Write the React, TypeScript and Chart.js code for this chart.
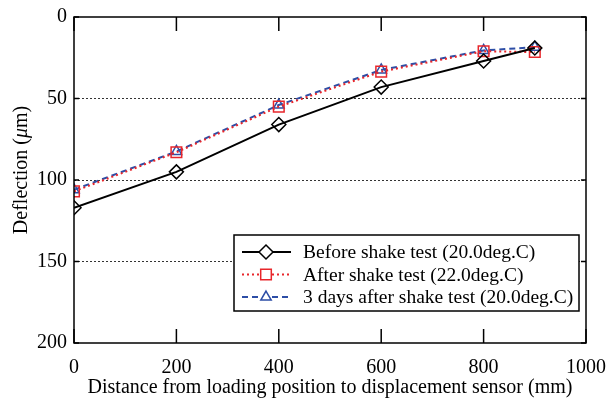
import React, { useEffect, useRef } from "react";
import { Chart, registerables } from "chart.js";
Chart.register(...registerables);

const distances = [0, 200, 400, 600, 800, 900];
const beforeShake = [117, 95, 66, 43, 27, 19];
const afterShake = [107, 83, 55, 33.5, 21, 21.5];
const threeDaysAfter = [106, 82.5, 54, 32.5, 20.5, 18.5];
const seriesLabels = [
  "Before shake test (20.0deg.C)",
  "After shake test (22.0deg.C)",
  "3 days after shake test (20.0deg.C)",
];
const xTickValues = [0, 200, 400, 600, 800, 1000];
const yTickValues = [0, 50, 100, 150, 200];
const xTitle = "Distance from loading position to displacement sensor (mm)";
const yTitleParts = ["Deflection (", "\u03bc", "m)"];

const FONT = "'Liberation Serif', 'Times New Roman', serif";
const FS = 20;
const LFS = 19.5;

function drawMarker(ctx: CanvasRenderingContext2D, style: string, r: number, x: number, y: number) {
  ctx.beginPath();
  if (style === "rectRot") {
    ctx.moveTo(x - r, y);
    ctx.lineTo(x, y - r);
    ctx.lineTo(x + r, y);
    ctx.lineTo(x, y + r);
    ctx.closePath();
  } else if (style === "rect") {
    const s = Math.SQRT1_2 * r;
    ctx.rect(x - s, y - s, 2 * s, 2 * s);
  } else if (style === "triangle") {
    for (let k = 0; k < 3; k++) {
      const ang = (k * 2 * Math.PI) / 3;
      const px = x + Math.sin(ang) * r;
      const py = y - Math.cos(ang) * r;
      if (k === 0) ctx.moveTo(px, py);
      else ctx.lineTo(px, py);
    }
    ctx.closePath();
  }
  ctx.fill();
  ctx.stroke();
}

const framePlugin = {
  id: "framePlugin",
  afterDatasetsDraw(chart: any) {
    const { ctx, chartArea: a, scales } = chart;
    const xs = scales.x;
    const ys = scales.y;
    ctx.save();
    ctx.strokeStyle = "#000";
    ctx.lineWidth = 1.5;
    ctx.setLineDash([]);
    ctx.strokeRect(a.left, a.top, a.right - a.left, a.bottom - a.top);
    xTickValues.forEach((v) => {
      const px = xs.getPixelForValue(v);
      ctx.beginPath();
      ctx.moveTo(px, a.bottom);
      ctx.lineTo(px, a.bottom - 14);
      ctx.moveTo(px, a.top);
      ctx.lineTo(px, a.top + 14);
      ctx.stroke();
    });
    yTickValues.forEach((v) => {
      const py = ys.getPixelForValue(v);
      ctx.beginPath();
      ctx.moveTo(a.left, py);
      ctx.lineTo(a.left + 5, py);
      ctx.moveTo(a.right, py);
      ctx.lineTo(a.right - 5, py);
      ctx.stroke();
    });

    // legend
    const bx = 234, by = 235, bw = 345, bh = 76;
    ctx.fillStyle = "#fff";
    ctx.fillRect(bx, by, bw, bh);
    ctx.strokeStyle = "#000";
    ctx.lineWidth = 1.5;
    ctx.strokeRect(bx, by, bw, bh);
    const rows = [252, 274.5, 297];
    chart.data.datasets.forEach((ds: any, i: number) => {
      const y = rows[i];
      ctx.save();
      ctx.strokeStyle = ds.borderColor;
      ctx.lineWidth = ds.borderWidth;
      ctx.setLineDash(ds.borderDash || []);
      ctx.beginPath();
      ctx.moveTo(242, y);
      ctx.lineTo(291, y);
      ctx.stroke();
      ctx.restore();
      ctx.save();
      ctx.fillStyle = "#fff";
      ctx.strokeStyle = ds.pointBorderColor;
      ctx.lineWidth = ds.pointBorderWidth;
      ctx.setLineDash([]);
      drawMarker(ctx, ds.pointStyle, ds.pointRadius, 266, y);
      ctx.restore();
      ctx.fillStyle = "#000";
      ctx.font = `${LFS}px ${FONT}`;
      ctx.textBaseline = "middle";
      ctx.textAlign = "left";
      ctx.fillText(ds.label, 303, y + 1);
    });

    // x title
    ctx.fillStyle = "#000";
    ctx.font = `${FS}px ${FONT}`;
    ctx.textAlign = "center";
    ctx.textBaseline = "middle";
    ctx.fillText(xTitle, (a.left + a.right) / 2, 388);

    // y title with italic mu
    ctx.save();
    ctx.translate(22, 170);
    ctx.rotate(-Math.PI / 2);
    ctx.textBaseline = "middle";
    ctx.textAlign = "left";
    const fonts = [`${FS}px ${FONT}`, `italic ${FS}px ${FONT}`, `${FS}px ${FONT}`];
    let total = 0;
    const widths = yTitleParts.map((t, i) => {
      ctx.font = fonts[i];
      const w = ctx.measureText(t).width;
      total += w;
      return w;
    });
    let cx = -total / 2;
    yTitleParts.forEach((t, i) => {
      ctx.font = fonts[i];
      ctx.fillText(t, cx, 0);
      cx += widths[i];
    });
    ctx.restore();
    ctx.restore();
  },
};

export default function App() {
  const ref = useRef<HTMLCanvasElement>(null);
  useEffect(() => {
    if (!ref.current) return;
    const mk = (vals: number[]) => distances.map((x, i) => ({ x, y: vals[i] }));
    const chart = new Chart(ref.current, {
      type: "line",
      data: {
        datasets: [
          {
            label: seriesLabels[0],
            data: mk(beforeShake),
            borderColor: "#000",
            borderWidth: 2,
            pointStyle: "rectRot",
            pointRadius: 7,
            pointBorderColor: "#000",
            pointBackgroundColor: "rgba(255,255,255,0)",
            pointBorderWidth: 1.5,
          },
          {
            label: seriesLabels[1],
            data: mk(afterShake),
            borderColor: "#e8262b",
            borderWidth: 2,
            borderDash: [2, 3],
            pointStyle: "rect",
            pointRadius: 7.5,
            pointBorderColor: "#e8262b",
            pointBackgroundColor: "rgba(255,255,255,0)",
            pointBorderWidth: 1.5,
          },
          {
            label: seriesLabels[2],
            data: mk(threeDaysAfter),
            borderColor: "#2d4ea6",
            borderWidth: 2,
            borderDash: [6, 4],
            pointStyle: "triangle",
            pointRadius: 6,
            pointBorderColor: "#2d4ea6",
            pointBackgroundColor: "rgba(255,255,255,0)",
            pointBorderWidth: 1.5,
          },
        ] as any,
      },
      options: {
        animation: false,
        responsive: false,
        maintainAspectRatio: false,
        events: [],
        layout: { padding: { top: 17, right: 21, left: 0, bottom: 0 } },
        plugins: { legend: { display: false }, tooltip: { enabled: false } },
        scales: {
          x: {
            type: "linear",
            min: 0,
            max: 1000,
            afterFit: (s: any) => {
              s.height = 60;
              s.paddingLeft = 0;
              s.paddingRight = 0;
            },
            afterBuildTicks: (s: any) => { s.ticks = xTickValues.map((v) => ({ value: v })); },
            grid: { display: false, drawTicks: false },
            border: { display: false },
            ticks: {
              color: "#000",
              font: { family: FONT, size: FS },
              padding: 13,
              maxRotation: 0,
              callback: (v: any) => String(v),
            },
          },
          y: {
            type: "linear",
            reverse: true,
            min: 0,
            max: 200,
            afterFit: (s: any) => {
              s.width = 74;
              s.paddingTop = 0;
              s.paddingBottom = 0;
            },
            afterBuildTicks: (s: any) => { s.ticks = yTickValues.map((v) => ({ value: v })); },
            grid: {
              drawTicks: false,
              color: (c: any) => (c.tick && (c.tick.value === 0 || c.tick.value === 200) ? "rgba(0,0,0,0)" : "#333"),
              lineWidth: 1,
            },
            border: { display: false, dash: [2, 2] } as any,
            ticks: {
              color: "#000",
              font: { family: FONT, size: FS },
              padding: 7,
              callback: (v: any) => String(v),
            },
          },
        },
      } as any,
      plugins: [framePlugin],
    });
    return () => chart.destroy();
  }, []);
  return (
    <div style={{ position: "absolute", left: 0, top: 0, width: 607, height: 403, background: "#fff" }}>
      <canvas ref={ref} width={607} height={403} />
    </div>
  );
}
